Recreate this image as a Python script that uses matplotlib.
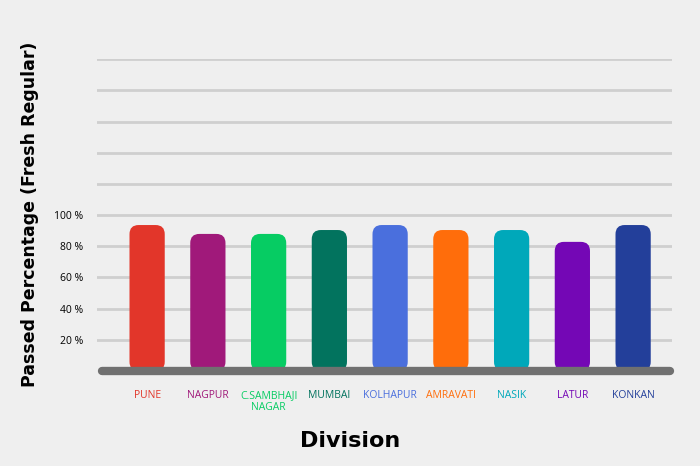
import matplotlib.pyplot as plt
from matplotlib.patches import FancyBboxPatch

divisions = ["PUNE", "NAGPUR", "C.SAMBHAJI\nNAGAR", "MUMBAI", "KOLHAPUR", "AMRAVATI", "NASIK", "LATUR", "KONKAN"]
passed = [93.6, 87.9, 87.9, 90.4, 93.6, 90.4, 90.4, 82.8, 93.6]
colors = ["#e2362a", "#a0197a", "#06cc63", "#02735e", "#4a6fdd", "#ff6d0b", "#00a8ba", "#7407b5", "#233f9a"]
yticks = [20, 40, 60, 80, 100]

bg = "#efefef"
fig = plt.figure(figsize=(7, 4.66), dpi=100, facecolor=bg)
ax = fig.add_axes([0.139, 0.204, 0.821, 0.669], facecolor=bg)
ax.set_xlim(-0.82, 8.64)
ax.set_ylim(0, 200)

for g in range(20, 201, 20):
    ax.axhline(g, color="#cfcfcf", lw=2, zorder=0)

w = 0.58
px_x = 575 / (8.64 + 0.82)
px_y = 312 / 200
for i, (v, c) in enumerate(zip(passed, colors)):
    p = FancyBboxPatch((i - w / 2, 0), w, v, boxstyle="round,pad=0,rounding_size=0.15",
                       mutation_aspect=px_x / px_y, fc=c, ec="none", zorder=2)
    ax.add_patch(p)
    ax.text(i, -12, divisions[i], color=c, ha="center", va="top", fontsize=7.5,
            family="Open Sans", linespacing=1.2)

ax.plot([-0.75, 8.6], [0, 0], color="#707070", lw=6, solid_capstyle="round", zorder=3, clip_on=False)

ax.set_yticks(yticks)
ax.set_yticklabels([f"{t} %" for t in yticks], fontsize=7.5, family="Open Sans")
ax.set_xticks([])
ax.tick_params(axis="y", length=0, pad=10)
for s in ax.spines.values():
    s.set_visible(False)

fig.text(0.043, 0.54, "Passed Percentage (Fresh Regular)", rotation=90, ha="center", va="center",
         fontsize=12.5, fontweight="bold")
fig.text(0.5, 0.053, "Division", ha="center", va="center", fontsize=16, fontweight="bold")

fig.savefig("out.png", dpi=100, facecolor=bg)
